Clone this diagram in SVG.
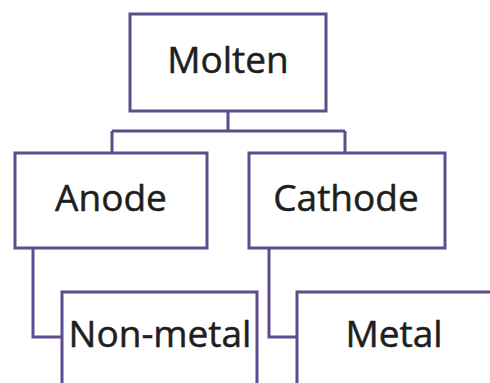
<svg xmlns="http://www.w3.org/2000/svg" width="490" height="383" viewBox="0 0 490 383">
  <style>
    .box { fill: #ffffff; stroke: #5e4d8a; stroke-width: 3; }
    .link { fill: none; stroke: #5e4d8a; stroke-width: 3; }
    .label { font-family: "Open Sans", "Liberation Sans", sans-serif; font-size: 37px; fill: #1e1e1e; stroke: #1e1e1e; stroke-width: 0.5; text-anchor: middle; }
  </style>
  <rect width="490" height="383" fill="#ffffff"/>

  <!-- connectors -->
  <g id="connectors">
    <path class="link" d="M228 111 V131 M112 131 H345 M112 131 V153 M345 131 V153"/>
    <path class="link" d="M33 248 V337 H62"/>
    <path class="link" d="M269 248 V337 H297"/>
  </g>

  <g id="molten">
    <rect class="box" x="130" y="14" width="196" height="97"/>
    <text class="label" x="228" y="73">Molten</text>
  </g>
  <g id="anode">
    <rect class="box" x="15" y="153" width="192" height="95"/>
    <text class="label" x="111" y="211">Anode</text>
  </g>
  <g id="cathode">
    <rect class="box" x="249" y="153" width="196" height="95"/>
    <text class="label" x="346" y="211">Cathode</text>
  </g>
  <g id="non-metal">
    <rect class="box" x="62" y="292" width="195" height="100"/>
    <text class="label" x="160" y="347">Non-metal</text>
  </g>
  <g id="metal">
    <rect class="box" x="297" y="292" width="196" height="100"/>
    <text class="label" x="394" y="347">Metal</text>
  </g>
</svg>
